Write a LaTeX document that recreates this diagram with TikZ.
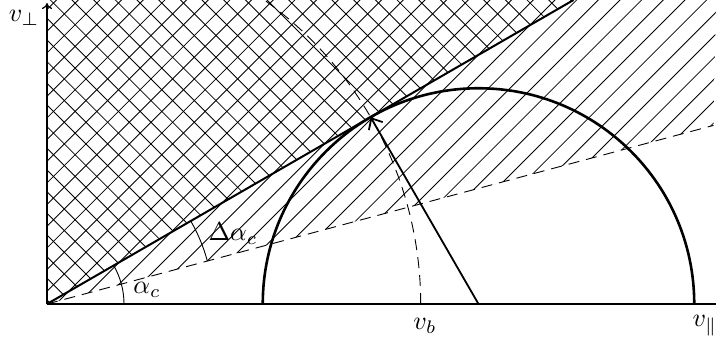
\documentclass[tikz,border=0pt]{standalone}
\usetikzlibrary{arrows.meta}
\begin{document}
\begin{tikzpicture}[x=1pt,y=1pt,
  hatch/.style={line width=0.85pt},
  dashline/.style={line width=0.9pt,dash pattern=on 11pt off 7pt},
  axis/.style={line width=1.2pt,-{To[length=6pt,width=10pt]}},
  lab/.style={scale=2.6,inner sep=0pt}]
\useasboundingbox (-47,-34) rectangle (669,304);
\coordinate (O) at (0,0);
\coordinate (C) at (431.5,0);
\coordinate (T) at (30:373.7);
\coordinate (L) at (30:608);
\coordinate (D) at (15:690);
\coordinate (Y) at (0,301);
\coordinate (X) at (711,0);
% single hatch above dashed line
\begin{scope}
\clip (0,0) -- (15:690) -- (669,304) -- (0,304) -- cycle;
\foreach \k in {-20,...,32} {
  \draw[hatch] (\k*21.67+8.9-320,-320) -- ++(700,700);
}
\end{scope}
% cross hatch above solid line
\begin{scope}
\clip (0,0) -- (526.5,304) -- (0,304) -- cycle;
\foreach \k in {0,...,40} {
  \draw[hatch] (\k*21.67+4,0) -- ++(-700,700);
}
\end{scope}
% dashed boundary line and dashed arc
\draw[dashline] (O) -- (D);
\begin{scope}
\clip (-47,-34) rectangle (669,304);
\draw[dashline] (373.7,0) arc (0:56:373.7);
\end{scope}
% axes
\draw[axis] (O) -- (Y);
\draw[axis] (O) -- (X);
% solid line
\draw[line width=2pt] (O) -- (L);
% semicircle
\draw[line width=2.6pt] (C) ++(180:215.75) arc (180:0:215.75);
% radius arrow
\draw[line width=1.8pt,-{Straight Barb[length=9pt,width=16pt]}] (C) -- (T);
% angle arcs
\draw[line width=0.9pt] (77,0) arc (0:30:77);
\draw[line width=0.9pt] (15:166) arc (15:30:166);
% labels
\node[lab] (vperp) at (-23,286) {$v_\perp$};
\node[lab,anchor=west] (vpar) at (645,-22) {$v_\parallel$};
\node[lab] (vb) at (378,-22) {$v_b$};
\node[lab] (ac) at (100,14) {$\alpha_c$};
\node[lab] (dac) at (186,70) {$\Delta\alpha_c$};
\end{tikzpicture}
\end{document}
